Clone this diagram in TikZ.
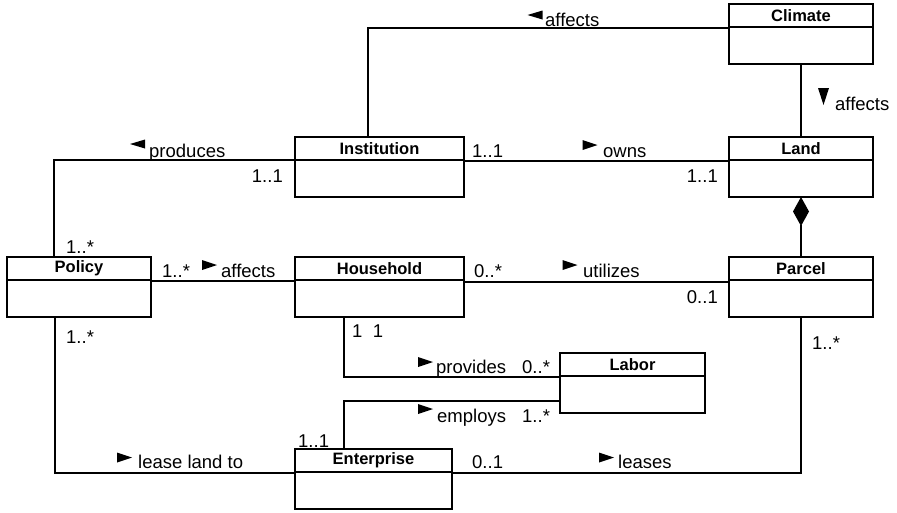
\documentclass[tikz,border=0pt]{standalone}
\usepackage{fontspec}
\setmainfont{Liberation Sans}
\usetikzlibrary{arrows.meta}
\newcommand\umlhead[2]{%
  \node[title] (#1-t) at ([yshift=-11.5pt]#1.north) {#2};
  \draw[div] ([yshift=-23pt]#1.north west) -- ([yshift=-23pt]#1.north east);}
\begin{document}
\begin{tikzpicture}[x=1pt,y=-1pt,
  cls/.style={draw, line width=1.8pt, minimum height=60pt, inner sep=0pt, outer sep=0pt},
  div/.style={line width=1.2pt},
  title/.style={font=\bfseries\fontsize{16.5}{18}\selectfont, inner sep=0pt},
  lbl/.style={font=\fontsize{18.5}{20}\selectfont, inner sep=0pt, anchor=base west},
  lble/.style={lbl, anchor=base east},
  conn/.style={line width=1.2pt},
  rtri/.pic={\fill (-7.5,-5) -- (7.5,0) -- (-7.5,5) -- cycle;},
  ltri/.pic={\fill (7.5,-4.5) -- (-7.5,0) -- (7.5,4.5) -- cycle;},
  dtri/.pic={\fill (-5.5,-8.5) -- (5.5,-8.5) -- (0,8.5) -- cycle;}]
\useasboundingbox (0,0) rectangle (897,512);

% classes
\node[cls, minimum width=144pt] (climate) at (801,34) {};
\node[cls, minimum width=169pt] (institution) at (379.5,167) {};
\node[cls, minimum width=144pt] (land) at (801,167) {};
\node[cls, minimum width=144pt] (policy) at (79,287) {};
\node[cls, minimum width=169pt] (household) at (379.5,287) {};
\node[cls, minimum width=144pt] (parcel) at (801,287) {};
\node[cls, minimum width=145pt] (labor) at (632.5,383) {};
\node[cls, minimum width=157pt] (enterprise) at (373.5,479) {};
\umlhead{climate}{Climate}
\umlhead{institution}{Institution}
\umlhead{land}{Land}
\umlhead{policy}{Policy}
\umlhead{household}{Household}
\umlhead{parcel}{Parcel}
\umlhead{labor}{Labor}
\umlhead{enterprise}{Enterprise}

% connectors
\draw[conn] (climate.west |- 0,28) -| (institution.north -| 368,0);
\draw[conn] (climate.south) -- (land.north);
\draw[conn] (institution.west |- 0,160) -| (policy.north -| 54,0);
\draw[conn] (institution.east |- 0,161) -- (land.west |- 0,161);
\draw[conn, -{Diamond[length=29pt,width=16pt]}] (parcel.north) -- (land.south);
\draw[conn] (policy.east |- 0,281) -- (household.west |- 0,281);
\draw[conn] (household.east |- 0,282) -- (parcel.west |- 0,282);
\draw[conn] (household.south -| 344,0) |- (labor.west |- 0,377);
\draw[conn] (labor.west |- 0,401) -| (enterprise.north -| 344,0);
\draw[conn] (policy.south -| 55,0) |- (enterprise.west |- 0,473);
\draw[conn] (enterprise.east |- 0,473) -| (parcel.south);

% direction triangles
\pic at (535,15) {ltri};
\pic at (137.5,144) {ltri};
\pic at (590,145) {rtri};
\pic at (209.5,265) {rtri};
\pic at (570,265) {rtri};
\pic at (425.5,362) {rtri};
\pic at (425.5,409) {rtri};
\pic at (124.5,457.5) {rtri};
\pic at (606.5,457.5) {rtri};
\pic at (823.5,96.5) {dtri};

% labels
\node[lbl] (a1) at (545,26) {affects};
\node[lbl] (a2) at (835,110) {affects};
\node[lbl] (a3) at (149,157) {produces};
\node[lble] (m1) at (283,182) {1..1};
\node[lbl] (m2) at (472,157) {1..1};
\node[lbl] (a4) at (603,157) {owns};
\node[lble] (m3) at (718,182) {1..1};
\node[lbl] (m4) at (66,253) {1..*};
\node[lbl] (m5) at (162,277) {1..*};
\node[lbl] (a5) at (221,277) {affects};
\node[lbl] (m6) at (474,277) {0..*};
\node[lbl] (a6) at (583,277) {utilizes};
\node[lble] (m7) at (718,303) {0..1};
\node[lbl] (m8) at (66,343) {1..*};
\node[lbl] (m9) at (352,337) {1\hspace{10.5pt}1};
\node[lbl] (m10) at (812,349) {1..*};
\node[lbl] (a7) at (436,373) {provides};
\node[lbl] (m11) at (522,373) {0..*};
\node[lbl] (a8) at (437,422) {employs};
\node[lbl] (m12) at (522,422) {1..*};
\node[lbl] (m13) at (298,447) {1..1};
\node[lbl] (a9) at (138,468) {lease land to};
\node[lbl] (m14) at (472,468) {0..1};
\node[lbl] (a10) at (618,468) {leases};
\end{tikzpicture}
\end{document}
